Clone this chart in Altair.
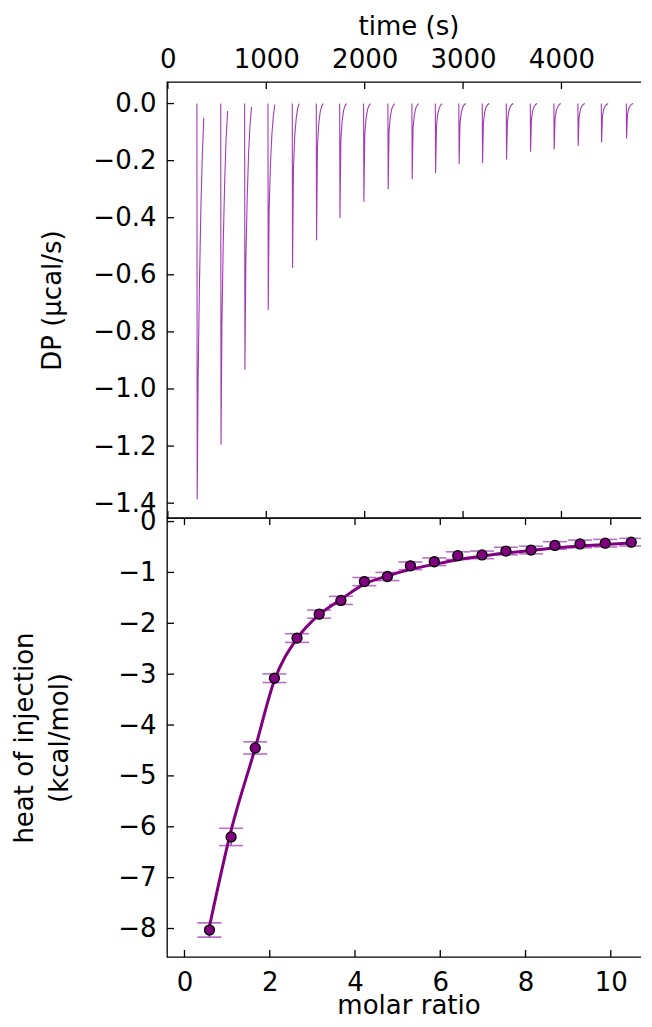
import altair as alt
import pandas as pd

# ---------------- data ----------------
# top panel: thermogram, one spike per injection
injection_time_s = [295, 537, 780, 1017, 1264, 1508, 1746, 1989, 2236, 2480,
                    2718, 2957, 3195, 3439, 3683, 3923, 4167, 4405, 4659]
# seconds after each injection at which the trace is sampled
trace_offset_s = [0, 3, 12, 25, 40, 55, 70]
# DP (µcal/s) of each injection at those offsets (start, peak, recovery)
injection_dp = [
    [0.0, -1.387, -0.971, -0.652, -0.374, -0.180, -0.050],
    [0.0, -1.195, -0.777, -0.502, -0.275, -0.120, -0.026],
    [0.0, -0.933, -0.560, -0.345, -0.177, -0.075, -0.012],
    [0.0, -0.723, -0.376, -0.217, -0.108, -0.043, -0.004],
    [0.0, -0.576, -0.230, -0.115, -0.052, -0.017, 0.0],
    [0.0, -0.479, -0.153, -0.072, -0.029, -0.010, 0.0],
    [0.0, -0.401, -0.128, -0.060, -0.024, -0.008, 0.0],
    [0.0, -0.344, -0.110, -0.052, -0.021, -0.007, 0.0],
    [0.0, -0.300, -0.096, -0.045, -0.018, -0.006, 0.0],
    [0.0, -0.265, -0.085, -0.040, -0.016, -0.005, 0.0],
    [0.0, -0.243, -0.078, -0.036, -0.015, -0.005, 0.0],
    [0.0, -0.212, -0.068, -0.032, -0.013, -0.004, 0.0],
    [0.0, -0.208, -0.067, -0.031, -0.012, -0.004, 0.0],
    [0.0, -0.196, -0.063, -0.029, -0.012, -0.004, 0.0],
    [0.0, -0.169, -0.054, -0.025, -0.010, -0.003, 0.0],
    [0.0, -0.161, -0.052, -0.024, -0.010, -0.003, 0.0],
    [0.0, -0.149, -0.048, -0.022, -0.009, -0.003, 0.0],
    [0.0, -0.136, -0.044, -0.020, -0.008, -0.003, 0.0],
    [0.0, -0.122, -0.039, -0.018, -0.007, -0.002, 0.0],
]

# bottom panel: integrated heats
molar_ratio = [0.586, 1.094, 1.66, 2.11, 2.64, 3.16, 3.67, 4.22, 4.76, 5.30,
               5.86, 6.41, 6.98, 7.54, 8.13, 8.69, 9.28, 9.87, 10.48]
heat_kcal_mol = [-8.03, -6.20, -4.45, -3.08, -2.29, -1.82, -1.55, -1.18, -1.08, -0.87,
                 -0.79, -0.67, -0.655, -0.58, -0.56, -0.47, -0.44, -0.425, -0.405]
heat_err = [0.14, 0.17, 0.12, 0.085, 0.085, 0.08, 0.08, 0.08, 0.08, 0.075,
            0.075, 0.075, 0.075, 0.075, 0.075, 0.075, 0.075, 0.075, 0.075]
fit_heat = [-7.96, -6.07, -4.45, -3.12, -2.30, -1.83, -1.53, -1.23, -1.07, -0.94,
            -0.84, -0.75, -0.68, -0.62, -0.57, -0.52, -0.48, -0.45, -0.42]

# tick values
time_ticks = [0, 1000, 2000, 3000, 4000]
dp_ticks = [0.0, -0.2, -0.4, -0.6, -0.8, -1.0, -1.2, -1.4]
molar_ticks = [0, 2, 4, 6, 8, 10]
heat_ticks = [0, -1, -2, -3, -4, -5, -6, -7, -8]

# ---------------- styling ----------------
W = 483
H_TOP = 436
H_BOT = 439
TICK = 7
FONT = "DejaVu Sans"
FS = 26
TRACE_COLOR = "#a43cb6"
MAIN_COLOR = "#800080"
ERR_COLOR = "#9a34b0"

# ---------------- tables ----------------
trace_rows = []
for k, (t0, dps) in enumerate(zip(injection_time_s, injection_dp)):
    for off, v in zip(trace_offset_s, dps):
        trace_rows.append({"injection": k, "time_s": t0 + off, "dp": v})
trace_df = pd.DataFrame(trace_rows)

heat_df = pd.DataFrame({
    "molar": molar_ratio,
    "heat": heat_kcal_mol,
    "lo": [h - e for h, e in zip(heat_kcal_mol, heat_err)],
    "hi": [h + e for h, e in zip(heat_kcal_mol, heat_err)],
    "fit": fit_heat,
})

time_tick_df = pd.DataFrame({"time_s": time_ticks})
dp_tick_df = pd.DataFrame({"dp": dp_ticks})
molar_tick_df = pd.DataFrame({"molar": molar_ticks})
heat_tick_df = pd.DataFrame({"heat": heat_ticks})

# ---------------- scales ----------------
time_scale = alt.Scale(domain=[-9, 4900], nice=False, zero=False)
dp_scale = alt.Scale(domain=[-1.452, 0.0755], nice=False, zero=False)
molar_scale = alt.Scale(domain=[-0.41, 10.92], nice=False, zero=False)
heat_scale = alt.Scale(domain=[-8.56, 0.07], nice=False, zero=False)

common_axis = dict(ticks=False, tickSize=0, domain=False, grid=False,
                   labelFlush=False, labelOverlap=False,
                   labelFont=FONT, labelFontSize=FS, labelColor="black",
                   titleFont=FONT, titleFontSize=FS, titleColor="black",
                   titleFontWeight="normal")

# ---------------- top panel ----------------
time_axis = alt.Axis(orient="top", values=time_ticks, format="d",
                     title="time (s)", labelPadding=15,
                     labelBaseline="alphabetic", titleBaseline="alphabetic",
                     titleY=-48, titleX=W / 2, **common_axis)
dp_axis = alt.Axis(values=dp_ticks, format=".1f", title="DP (µcal/s)",
                   labelPadding=11, titleAngle=270, titleAlign="center",
                   titleBaseline="alphabetic", titleX=-107, titleY=H_TOP / 2,
                   **common_axis)

trace = alt.Chart(trace_df).mark_line(color=TRACE_COLOR, strokeWidth=1.1).encode(
    x=alt.X("time_s:Q", scale=time_scale, axis=time_axis),
    y=alt.Y("dp:Q", scale=dp_scale, axis=dp_axis),
    detail="injection:N", order="time_s:Q")

tx_top = alt.Chart(time_tick_df).mark_rule(color="black", strokeWidth=1.3).encode(
    x=alt.X("time_s:Q", scale=time_scale), y=alt.value(0), y2=alt.value(TICK))
tx_bot = alt.Chart(time_tick_df).mark_rule(color="black", strokeWidth=1.3).encode(
    x=alt.X("time_s:Q", scale=time_scale), y=alt.value(H_TOP - TICK), y2=alt.value(H_TOP))
ty_left = alt.Chart(dp_tick_df).mark_rule(color="black", strokeWidth=1.3).encode(
    y=alt.Y("dp:Q", scale=dp_scale), x=alt.value(0), x2=alt.value(TICK))
ty_right = alt.Chart(dp_tick_df).mark_rule(color="black", strokeWidth=1.3).encode(
    y=alt.Y("dp:Q", scale=dp_scale), x=alt.value(W - TICK), x2=alt.value(W))

top = alt.layer(trace, tx_top, tx_bot, ty_left, ty_right).properties(width=W, height=H_TOP)

# ---------------- bottom panel ----------------
molar_axis = alt.Axis(orient="bottom", values=molar_ticks, format="d",
                      title="molar ratio", labelPadding=33,
                      labelBaseline="alphabetic", titleBaseline="alphabetic",
                      titleY=56, titleX=W / 2, **common_axis)
heat_axis = alt.Axis(values=heat_ticks, format="d",
                     title=["heat of injection", "(kcal/mol)"],
                     labelPadding=11, titleAngle=270, titleAlign="center",
                     titleBaseline="alphabetic", titleX=-134.5, titleY=H_BOT / 2,
                     titleLineHeight=35, **common_axis)

err_rule = alt.Chart(heat_df).mark_rule(color=ERR_COLOR, strokeWidth=1.4).encode(
    x=alt.X("molar:Q", scale=molar_scale, axis=molar_axis),
    y=alt.Y("lo:Q", scale=heat_scale, axis=heat_axis),
    y2="hi:Q")
cap_lo = alt.Chart(heat_df).mark_tick(color=ERR_COLOR, orient="horizontal",
                                      size=24, thickness=1.6).encode(
    x=alt.X("molar:Q", scale=molar_scale), y=alt.Y("lo:Q", scale=heat_scale))
cap_hi = alt.Chart(heat_df).mark_tick(color=ERR_COLOR, orient="horizontal",
                                      size=24, thickness=1.6).encode(
    x=alt.X("molar:Q", scale=molar_scale), y=alt.Y("hi:Q", scale=heat_scale))
fit_line = alt.Chart(heat_df).mark_line(color=MAIN_COLOR, strokeWidth=3,
                                        interpolate="monotone").encode(
    x=alt.X("molar:Q", scale=molar_scale), y=alt.Y("fit:Q", scale=heat_scale))
pts = alt.Chart(heat_df).mark_point(filled=True, shape="circle", size=100, fill=MAIN_COLOR,
                                    stroke="black", strokeWidth=1.3, opacity=1).encode(
    x=alt.X("molar:Q", scale=molar_scale), y=alt.Y("heat:Q", scale=heat_scale))

mx_top = alt.Chart(molar_tick_df).mark_rule(color="black", strokeWidth=1.3).encode(
    x=alt.X("molar:Q", scale=molar_scale), y=alt.value(0), y2=alt.value(TICK))
mx_bot = alt.Chart(molar_tick_df).mark_rule(color="black", strokeWidth=1.3).encode(
    x=alt.X("molar:Q", scale=molar_scale), y=alt.value(H_BOT - TICK), y2=alt.value(H_BOT))
hy_left = alt.Chart(heat_tick_df).mark_rule(color="black", strokeWidth=1.3).encode(
    y=alt.Y("heat:Q", scale=heat_scale), x=alt.value(0), x2=alt.value(TICK))
hy_right = alt.Chart(heat_tick_df).mark_rule(color="black", strokeWidth=1.3).encode(
    y=alt.Y("heat:Q", scale=heat_scale), x=alt.value(W - TICK), x2=alt.value(W))

bottom = alt.layer(err_rule, cap_lo, cap_hi, fit_line, pts,
                   mx_top, mx_bot, hy_left, hy_right).properties(width=W, height=H_BOT)

chart = alt.vconcat(top, bottom, spacing=0, bounds="flush").properties(
    padding={"left": 2, "top": 4, "right": -11, "bottom": 0},
    background="white",
).configure_view(
    stroke="black", strokeWidth=1.3
)

chart.save("out.html", embed_options={"renderer": "svg", "actions": False})
